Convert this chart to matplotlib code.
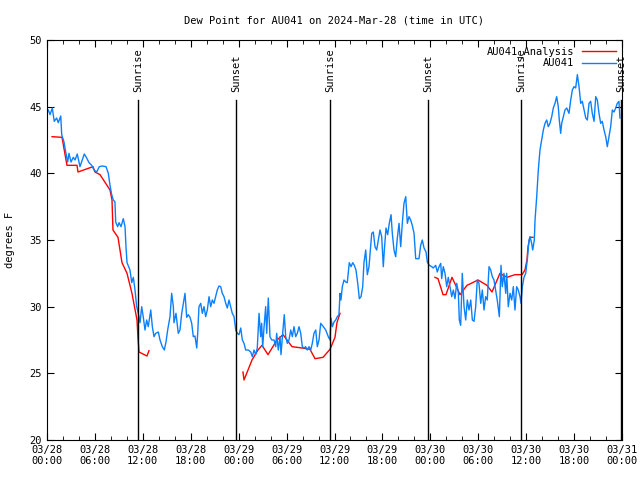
import matplotlib
matplotlib.use('Agg')
import matplotlib.pyplot as plt
import matplotlib.dates as mdates
import numpy as np
import pandas as pd

# --- datos (horas desde 2024-03-28 00:00 UTC) ---
inicio = pd.Timestamp('2024-03-28 00:00')

horas_obs = [
    0.16, 0.38, 0.66, 0.91, 1.21, 1.41, 1.72, 1.84, 2.13, 2.34, 2.59, 2.75, 3.01, 3.29, 3.51,
    3.79, 4.13, 4.42, 4.67, 4.97, 5.26, 5.60, 5.89, 6.22, 6.55, 6.92, 7.39, 7.68, 7.89, 8.10,
    8.30, 8.51, 8.60, 8.85, 9.02, 9.27, 9.55, 9.77, 9.89, 10.02, 10.39, 10.61, 10.81, 11.02,
    11.23, 11.43, 11.65, 11.86, 12.06, 12.27, 12.48, 12.68, 12.99, 13.19, 13.40, 13.61, 13.94,
    14.15, 14.44, 14.69, 14.90, 15.11, 15.40, 15.61, 15.82, 15.90, 16.15, 16.44, 16.65, 16.87,
    17.07, 17.28, 17.49, 17.69, 17.91, 18.12, 18.32, 18.53, 18.75, 18.87, 19.03, 19.25, 19.45,
    19.66, 19.87, 20.07, 20.29, 20.50, 20.70, 20.91, 21.12, 21.32, 21.54, 21.75, 21.95, 22.16,
    22.38, 22.58, 22.79, 23.00, 23.20, 23.42, 23.63, 23.83, 24.04, 24.26, 24.46, 24.67, 24.88,
    25.21, 25.51, 25.71, 25.92, 26.13, 26.33, 26.55, 26.76, 26.88, 27.01, 27.17, 27.38, 27.51,
    27.71, 27.92, 28.14, 28.43, 28.64, 28.76, 28.96, 29.18, 29.30, 29.51, 29.71, 29.89, 30.09,
    30.30, 30.52, 30.72, 30.93, 31.14, 31.34, 31.56, 31.77, 31.97, 32.18, 32.39, 32.59, 32.81,
    33.02, 33.22, 33.43, 33.65, 33.85, 34.06, 34.27, 34.60, 34.90, 35.22, 35.44, 35.56, 35.73,
    35.94, 36.15, 36.35, 36.56, 36.69, 36.81, 36.98, 37.19, 37.40, 37.60, 37.85, 38.07, 38.28,
    38.48, 38.69, 38.91, 39.11, 39.32, 39.53, 39.69, 39.91, 40.11, 40.32, 40.53, 40.66, 40.86,
    41.07, 41.28, 41.49, 41.70, 41.91, 42.11, 42.24, 42.45, 42.66, 42.86, 43.08, 43.24, 43.45,
    43.66, 43.86, 44.08, 44.29, 44.49, 44.70, 44.92, 45.12, 45.33, 45.54, 45.74, 45.96, 46.17,
    46.58, 46.79, 46.99, 47.21, 47.46, 47.62, 47.87, 48.17, 48.37, 48.67, 48.87, 49.09, 49.30,
    49.42, 49.62, 49.84, 50.05, 50.25, 50.46, 50.68, 50.88, 51.09, 51.30, 51.50, 51.63, 51.80,
    52.00, 52.22, 52.43, 52.63, 52.84, 53.06, 53.26, 53.47, 53.68, 53.88, 54.09, 54.31, 54.51,
    54.72, 54.93, 55.13, 55.35, 55.56, 55.76, 55.97, 56.18, 56.39, 56.64, 56.85, 57.01, 57.22,
    57.44, 57.56, 57.76, 57.98, 58.19, 58.39, 58.60, 58.81, 59.01, 59.23, 59.35, 59.52, 59.73,
    59.94, 60.14, 60.36, 60.48, 60.69, 60.82, 61.02, 61.11, 61.32, 61.52, 61.73, 61.94, 62.15,
    62.36, 62.57, 62.77, 62.98, 63.20, 63.40, 63.61, 63.82, 64.02, 64.15, 64.32, 64.45, 64.65,
    64.86, 65.08, 65.36, 65.58, 65.78, 65.99, 66.20, 66.41, 66.62, 66.83, 67.03, 67.25, 67.46,
    67.66, 67.87, 68.08, 68.28, 68.50, 68.71, 68.91, 69.12, 69.33, 69.53, 69.75, 69.96, 70.16,
    70.37, 70.58, 70.79, 71.00, 71.21, 71.41, 71.62, 71.74,
]
punto_rocio_obs = [
    44.75, 44.4, 44.9, 43.9, 44.15, 43.8, 44.3, 42.9, 42.35, 41.6, 40.85, 41.5, 40.85, 41.2, 41.0,
    41.45, 40.5, 41.0, 41.45, 41.15, 40.8, 40.6, 40.25, 40.1, 40.5, 40.55, 40.5, 40.0, 39.1, 38.4,
    38.0, 37.85, 36.35, 36.0, 36.3, 36.0, 36.6, 36.0, 34.5, 33.3, 32.75, 31.8, 32.2, 31.25,
    30.0, 29.5, 28.8, 30.0, 29.2, 28.25, 29.0, 28.5, 29.75, 28.5, 27.75, 28.0, 28.1,
    27.5, 27.0, 26.75, 27.35, 28.25, 29.25, 31.0, 30.0, 28.8, 29.5, 28.0, 28.25, 29.5,
    30.25, 31.0, 29.2, 29.4, 29.2, 28.75, 27.75, 27.8, 26.9, 28.0, 30.0, 30.25, 29.5,
    30.0, 29.25, 29.75, 30.75, 30.0, 30.5, 30.25, 30.75, 31.25, 31.55, 31.5, 31.0, 30.75,
    30.25, 29.9, 30.5, 30.0, 29.5, 29.25, 28.25, 28.0, 27.9, 28.4, 27.5, 27.25, 26.75,
    26.75, 26.6, 26.25, 26.75, 26.4, 26.9, 29.5, 27.75, 28.75, 27.0, 28.4, 30.0, 28.0,
    30.65, 27.75, 27.5, 27.5, 27.0, 28.0, 26.75, 27.75, 26.4, 28.0, 29.4, 27.75, 27.25,
    27.5, 28.25, 27.75, 28.5, 27.75, 28.0, 28.5, 28.0, 27.0, 26.9, 27.0, 26.75, 27.0,
    26.75, 27.25, 28.0, 28.25, 27.0, 27.5, 28.75, 28.5, 28.25, 27.75, 27.5, 29.15, 28.5,
    28.85, 29.0, 29.25, 29.4, 31.0, 30.5, 31.5, 32.0, 31.85, 31.8, 33.3, 33.0, 33.3,
    33.1, 32.75, 31.75, 30.6, 30.75, 31.5, 33.3, 34.25, 32.4, 33.0, 34.5, 35.5, 35.6,
    34.5, 34.25, 35.0, 35.75, 35.25, 33.0, 34.25, 35.9, 35.4, 36.25, 36.9, 35.5, 34.25,
    33.75, 35.1, 36.25, 34.5, 36.25, 37.75, 38.25, 36.25, 36.75, 36.5, 36.1, 35.5, 33.6,
    33.6, 34.6, 35.0, 34.4, 34.1, 33.35, 33.1, 33.0, 32.9, 33.1, 32.6, 33.0, 33.25,
    32.1, 33.0, 32.5, 31.5, 32.2, 31.5, 30.75, 31.25, 30.6, 31.75, 31.1, 29.0, 28.6,
    32.5, 30.0, 29.0, 30.5, 29.75, 30.5, 29.0, 28.9, 30.0, 32.0, 31.75, 30.25, 31.25,
    29.75, 30.75, 30.5, 33.0, 32.75, 32.25, 32.0, 31.25, 30.45, 29.25, 33.1, 31.5, 32.5,
    31.0, 32.5, 30.0, 31.0, 30.5, 31.5, 29.75, 31.5, 31.25, 30.75, 30.25, 31.5, 32.2,
    32.5, 33.5, 35.0, 35.25, 34.75, 34.25, 35.0, 36.5, 38.25, 40.25, 41.75, 42.5, 43.25,
    43.75, 44.0, 43.5, 43.75, 44.25, 44.9, 45.25, 45.75, 45.0, 44.0, 43.0, 43.75, 44.25,
    44.75, 44.9, 44.5, 45.5, 46.25, 46.5, 46.4, 47.4, 46.5, 45.25, 45.4, 44.75, 44.15,
    44.0, 45.25, 45.4, 44.5, 43.9, 45.75, 45.5, 44.5, 43.75, 43.9, 43.25, 42.75, 42.0,
    42.75, 43.5, 44.75, 44.6, 44.9, 45.25, 45.4, 44.15,
]

# analisis (con huecos sin dato)
horas_ana = [
    0.63, 1.88, 2.50, 3.76, 3.88, 5.76, 6.01, 6.64, 7.89, 8.14, 8.26, 8.89, 9.39, 10.02,
    10.64, 11.27, 11.39, 11.52, 12.52, 12.77, 18.0,
    24.54, 24.67, 25.67, 26.42, 26.92, 27.67, 28.80, 29.55, 30.18, 30.68, 31.93, 32.93,
    33.56, 34.56, 35.44, 36.06, 36.31, 36.69, 42.0,
    48.58, 48.96, 49.59, 49.96, 50.71, 51.34, 51.71, 52.59, 53.97, 55.10, 55.72, 56.72,
    57.60, 58.60, 59.48, 59.85, 60.10, 60.23, 60.48, 60.86,
]
punto_rocio_ana = [
    42.75, 42.7, 40.6, 40.6, 40.1, 40.5, 40.1, 39.9, 38.75, 38.0, 35.75, 35.2, 33.3, 32.5,
    31.0, 29.0, 27.7, 26.6, 26.3, 26.7, np.nan,
    25.1, 24.5, 26.0, 26.75, 27.1, 26.4, 27.5, 27.9, 27.4, 27.0, 26.9, 26.8,
    26.1, 26.2, 26.8, 27.7, 28.8, 29.5, np.nan,
    32.2, 32.1, 30.9, 30.9, 32.2, 31.4, 30.9, 31.6, 32.0, 31.6, 31.1, 32.5,
    32.2, 32.4, 32.4, 32.75, 33.5, 34.5, 35.2, 35.2,
]

eventos_horas = [11.40, 23.67, 35.43, 47.70, 59.37, 71.90]
eventos_nombres = ['Sunrise', 'Sunset', 'Sunrise', 'Sunset', 'Sunrise', 'Sunset']

# --- grafico ---
plt.rcParams['font.family'] = ['DejaVu Sans Mono']
plt.rcParams['font.size'] = 7.5

t_obs = inicio + pd.to_timedelta(horas_obs, unit='h')
t_ana = inicio + pd.to_timedelta(horas_ana, unit='h')
t_evt = inicio + pd.to_timedelta(eventos_horas, unit='h')

fig = plt.figure(figsize=(6.4, 4.8), dpi=100)
ax = fig.add_axes([47 / 640, 1 - 440 / 480, 575 / 640, 400 / 480])

ax.plot(t_ana, punto_rocio_ana, color='#ff0000', lw=1, label='AU041_Analysis')
ax.plot(t_obs, punto_rocio_obs, color='#0a80ff', lw=1, label='AU041')

for t, nombre in zip(t_evt, eventos_nombres):
    ax.axvline(t, ymin=0, ymax=(45.5 - 20) / 30, color='black', lw=1)
    ax.text(t, 46.1, nombre, rotation=90, ha='center', va='bottom', fontsize=7.5)

ax.set_xlim(inicio, inicio + pd.Timedelta(hours=72))
ax.set_ylim(20, 50)
ax.set_yticks(np.arange(20, 51, 5))
ax.xaxis.set_major_locator(mdates.HourLocator(byhour=[0, 6, 12, 18]))
ax.xaxis.set_minor_locator(mdates.HourLocator(byhour=range(0, 24, 2)))
ax.xaxis.set_major_formatter(mdates.DateFormatter('%m/%d\n%H:%M'))
ax.tick_params(which='both', direction='in', top=True, right=True)
ax.tick_params(which='major', length=5)
ax.tick_params(which='minor', length=3)

ax.set_ylabel('degrees F')
ax.yaxis.set_label_coords(-0.056, 0.5)
ax.set_title('Dew Point for AU041 on 2024-Mar-28 (time in UTC)', fontsize=7.5, pad=12)

ax.legend(loc='upper right', frameon=False, markerfirst=False, handlelength=3.2,
          borderaxespad=0.2, labelspacing=0.1, handletextpad=0.8)

fig.savefig('out.png', dpi=100)
